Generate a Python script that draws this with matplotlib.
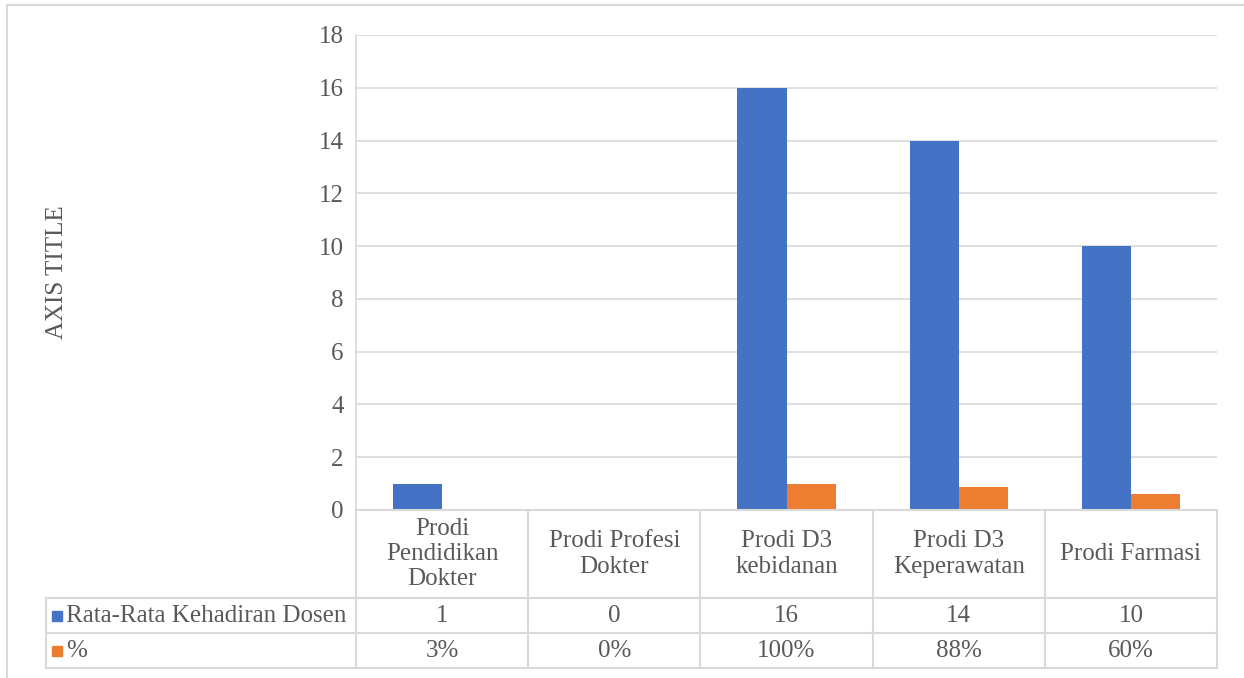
import matplotlib
matplotlib.use("Agg")
import matplotlib.pyplot as plt
from matplotlib.transforms import blended_transform_factory
from matplotlib.lines import Line2D
from matplotlib.patches import Rectangle

categories = ["Prodi\nPendidikan\nDokter", "Prodi Profesi\nDokter", "Prodi D3\nkebidanan",
              "Prodi D3\nKeperawatan", "Prodi Farmasi"]
series_names = ["Rata-Rata Kehadiran Dosen", "%"]
kehadiran = [1, 0, 16, 14, 10]
persen = [0.03, 0.0, 1.00, 0.88, 0.60]
kehadiran_labels = ["1", "0", "16", "14", "10"]
persen_labels = ["3%", "0%", "100%", "88%", "60%"]
yticks = [0, 2, 4, 6, 8, 10, 12, 14, 16, 18]

BLUE = "#4472C4"
ORANGE = "#ED7D31"
TXT = "#595959"
GRID = "#D9D9D9"
FONT = "Liberation Serif"
FS = 18

W, H = 1244, 678
fig = plt.figure(figsize=(W / 100, H / 100), dpi=100)

def fx(px):
    return px / W

def fy(py):
    return 1 - py / H

left, right, top, bottom = 356, 1217, 35, 510
ax = fig.add_axes([fx(left), fy(bottom), fx(right - left), (bottom - top) / H])
ax.set_xlim(-0.5, len(categories) - 0.5)
ax.set_ylim(0, 18)

bw = 0.285
x = list(range(len(categories)))
ax.bar([i - bw / 2 for i in x], kehadiran, width=bw, color=BLUE, zorder=3)
ax.bar([i + bw / 2 for i in x], persen, width=bw, color=ORANGE, zorder=3)

ax.set_yticks(yticks)
ax.set_yticklabels([str(t) for t in yticks], fontfamily=FONT, fontsize=FS, color=TXT)
ax.tick_params(axis="y", length=0, pad=9)
ax.set_xticks([])
ax.grid(axis="y", color=GRID, linewidth=1.2, zorder=0)
for s in ["top", "right", "bottom"]:
    ax.spines[s].set_visible(False)
ax.spines["left"].set_color(GRID)
ax.spines["left"].set_linewidth(1.2)

# Table
bt = blended_transform_factory(ax.transData, fig.transFigure)
lw = 1.5
y_rows = [510, 598, 633, 668]
fig.add_artist(Line2D([fx(left), fx(right)], [fy(510)] * 2, color=GRID, lw=lw))
for yy in y_rows[1:]:
    fig.add_artist(Line2D([fx(46), fx(right)], [fy(yy)] * 2, color=GRID, lw=lw))
fig.add_artist(Line2D([fx(46)] * 2, [fy(598), fy(668)], color=GRID, lw=lw))
fig.add_artist(Line2D([fx(left)] * 2, [fy(510), fy(668)], color=GRID, lw=lw))
for i in range(1, len(categories) + 1):
    xb = i - 0.5
    fig.add_artist(Line2D([xb, xb], [fy(510), fy(668)], color=GRID, lw=lw, transform=bt))

for i, c in enumerate(categories):
    fig.text(i, fy(554), c, transform=bt, ha="center", va="center", fontfamily=FONT,
             fontsize=FS, color=TXT, linespacing=1.2)
    fig.text(i, fy(616), kehadiran_labels[i], transform=bt, ha="center", va="center",
             fontfamily=FONT, fontsize=FS, color=TXT)
    fig.text(i, fy(651), persen_labels[i], transform=bt, ha="center", va="center",
             fontfamily=FONT, fontsize=FS, color=TXT)

# legend keys
fig.add_artist(Rectangle((fx(52), fy(621)), fx(10), 10 / H, color=BLUE, transform=fig.transFigure))
fig.add_artist(Rectangle((fx(52), fy(656)), fx(10), 10 / H, color=ORANGE, transform=fig.transFigure))
fig.text(fx(66), fy(616), series_names[0], ha="left", va="center", fontfamily=FONT,
         fontsize=FS, color=TXT)
fig.text(fx(66), fy(651), series_names[1], ha="left", va="center", fontfamily=FONT,
         fontsize=FS, color=TXT)

# axis title
fig.text(fx(57), fy(272), "AXIS TITLE", rotation=90, ha="center", va="center",
         fontfamily=FONT, fontsize=FS, color=TXT)

# chart border
fig.add_artist(Line2D([fx(7), fx(7)], [fy(5), 0], color=GRID, lw=1.5))
fig.add_artist(Line2D([fx(7), 1], [fy(5), fy(5)], color=GRID, lw=1.5))

fig.savefig("out.png", dpi=100)
